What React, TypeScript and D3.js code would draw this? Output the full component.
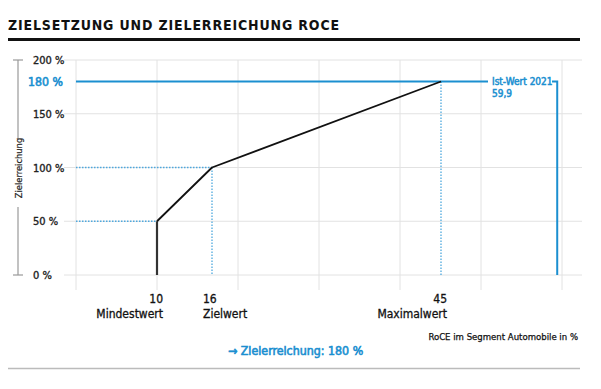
import * as d3 from "d3"

const title = "ZIELSETZUNG UND ZIELERREICHUNG ROCE"
const yTicks = [0, 50, 100, 150, 200]
const gridCols = [0, 1, 2, 3, 4, 5, 6]
const curveX = [10, 10, 16, 45]
const curveY = [0, 50, 100, 180]
const markNames = ["Mindestwert", "Zielwert", "Maximalwert"]
const markValues = [10, 16, 45]
const markAnchor = ["end", "start", "end"]
const istWert = 59.9
const istLabel = "Ist-Wert 2021"
const achieved = 180

const FONT = "'DejaVu Sans Condensed', 'Liberation Sans Narrow', sans-serif"
const BLUE = "#1b8fd0"
const DOT = "#4ea8de"
const GRID = "#e2e2e2"

// semi-bold look: normal weight with a thin outline in the same colour
const medium = (c: string, w = 0.35) => ({ fill: c, stroke: c, strokeWidth: w })

export default function App() {
  const W = 601
  const H = 389
  const y = d3.scaleLinear().domain([0, 200]).range([275, 60])
  // roce axis is not drawn to a strict linear scale in the original
  const x = d3.scaleLinear().domain([0, 10, 16, 45, 60]).range([76, 157, 212, 441, 558])
  const gx = d3.scaleLinear().domain([0, 6]).range([76, 562])

  const steep = d3.line<number>().x((_, i) => x(curveX[i])).y((d) => y(d))(curveY.slice(0, 2))!
  const rest = d3.line<number>().x((_, i) => x(curveX[i + 1])).y((d) => y(d))(curveY.slice(1))!

  const yi = y(achieved)
  const xi = x(istWert)

  return (
    <svg width={W} height={H} style={{ position: "absolute", left: 0, top: 0 }} fontFamily={FONT}>
      <text x={8} y={30} fontSize={14} fontWeight="bold" letterSpacing={0.85} fill="#111">{title}</text>
      <line x1={8} x2={580} y1={39.5} y2={39.5} stroke="#111" strokeWidth={3} />

      {yTicks.map((t) => (
        <line key={"h" + t} x1={64} x2={582} y1={y(t)} y2={y(t)} stroke={GRID} strokeWidth={1} />
      ))}
      {gridCols.map((c) => (
        <line key={"v" + c} x1={gx(c)} x2={gx(c)} y1={60} y2={290} stroke={GRID} strokeWidth={1} />
      ))}

      {yTicks.map((t) => (
        <text key={"yl" + t} x={33} y={y(t) + 4} fontSize={11} {...medium("#222")}>{t} %</text>
      ))}
      <text x={28} y={yi + 4.5} fontSize={12.2} {...medium(BLUE, 0.6)}>{achieved} %</text>

      <g stroke="#999" strokeWidth={1.2}>
        <line x1={18} x2={18} y1={y(200)} y2={138} />
        <line x1={18} x2={18} y1={207} y2={y(0)} />
        <line x1={13} x2={23} y1={y(200)} y2={y(200)} />
        <line x1={13} x2={23} y1={y(0)} y2={y(0)} />
      </g>
      <text transform="translate(21.5,168) rotate(-90)" textAnchor="middle" fontSize={9.3} {...medium("#222", 0.2)}>Zielerreichung</text>

      <g stroke={DOT} strokeWidth={1.3} strokeDasharray="1.5,1.5" fill="none">
        {markValues.slice(0, 2).map((v, i) => (
          <line key={"dh" + i} x1={x(0)} x2={x(v)} y1={y(curveY[i + 1])} y2={y(curveY[i + 1])} />
        ))}
        {markValues.slice(1).map((v, i) => (
          <line key={"dv" + i} x1={x(v)} x2={x(v)} y1={y(curveY[i + 2])} y2={y(0)} />
        ))}
      </g>

      <line x1={x(0)} x2={488} y1={yi} y2={yi} stroke={BLUE} strokeWidth={2} />
      <path d={`M552,${yi}H${xi}V${y(0)}`} stroke={BLUE} strokeWidth={2} fill="none" />
      <text x={492} y={yi + 3.5} fontSize={10} {...medium(BLUE, 0.5)}>{istLabel}</text>
      <text x={492} y={yi + 15} fontSize={10} {...medium(BLUE, 0.5)}>{String(istWert).replace(".", ",")}</text>

      <path d={steep} stroke="#333" strokeWidth={2.2} fill="none" />
      <path d={rest} stroke="#111" strokeWidth={1.8} fill="none" strokeLinejoin="round" />

      {markValues.map((v, i) => {
        const tx = markAnchor[i] === "end" ? x(v) + 6 : x(v) - 9
        return (
          <g key={"m" + i} fontSize={12} {...medium("#111", 0.3)} textAnchor={markAnchor[i]}>
            <text x={tx} y={303}>{v}</text>
            <text x={tx} y={318}>{markNames[i]}</text>
          </g>
        )
      })}

      <text x={578} y={340} textAnchor="end" fontSize={9.5} {...medium("#111", 0.25)}>RoCE im Segment Automobile in %</text>
      <text x={228} y={355} fontSize={12.3} {...medium(BLUE, 0.6)}>{"\u2192 Zielerreichung: " + achieved + " %"}</text>
      <line x1={8} x2={580} y1={368.5} y2={368.5} stroke="#bbb" strokeWidth={1.5} />
    </svg>
  )
}
